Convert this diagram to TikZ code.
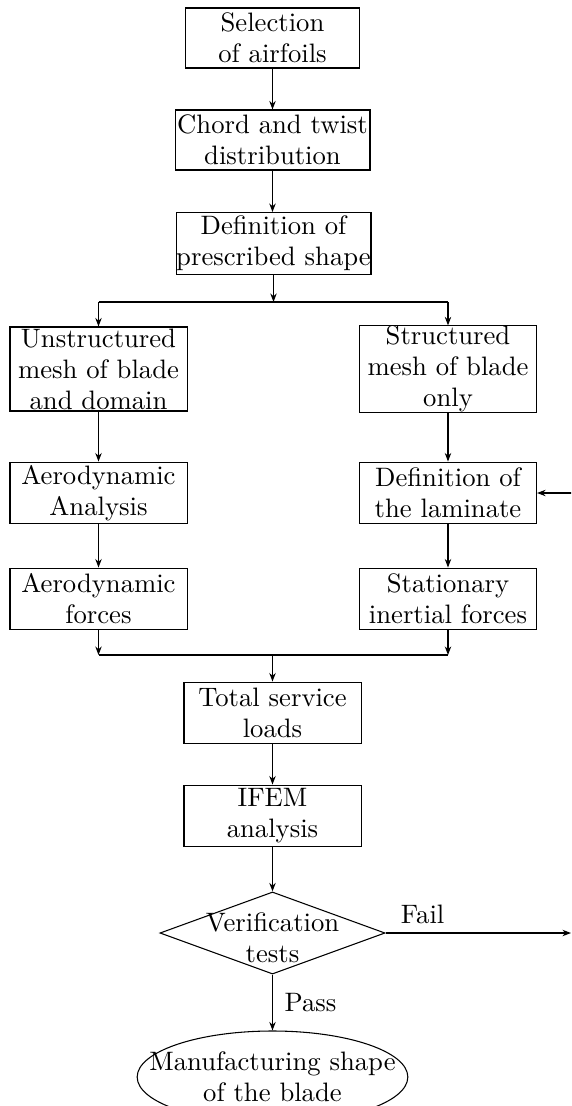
\documentclass[tikz,border=0pt]{standalone}
\usetikzlibrary{shapes.geometric,arrows.meta}
\newcommand{\twoline}[2]{\begin{tabular}{@{}c@{}}#1\\#2\end{tabular}}
\begin{document}
\begin{tikzpicture}[x=0.375pt,y=-0.375pt,
  font=\fontsize{10}{11.6}\selectfont,
  box/.style={draw,rectangle,align=center,inner sep=0pt},
  arr/.style={-{Stealth[length=3.2pt,width=2.4pt]},line width=0.45pt},
  ln/.style={line width=0.45pt}]
\useasboundingbox (0,0) rectangle (571,1106);
\begin{scope}
\clip (0,0) rectangle (571,1106);
\node[box,minimum width=65.3pt,minimum height=22.5pt] (b1) at (272.5,38) {Selection\\of airfoils};
\node[box,minimum width=73.1pt,minimum height=22.5pt] (b2) at (272.5,140) {Chord and twist\\distribution};
\node[box,minimum width=73.1pt,minimum height=23.2pt] (b3) at (273.5,243.5) {Definition of\\prescribed shape};
\node[box,minimum width=66.4pt,minimum height=31.5pt] (l1) at (98.5,369) {Unstructured\\mesh of blade\\and domain};
\node[box,minimum width=66.4pt,minimum height=31.5pt] (r1) at (448,369) {Structured\\mesh of blade\\only};
\node[box,minimum width=66.4pt,minimum height=23.2pt] (l2) at (98.5,493) {Aerodynamic\\Analysis};
\node[box,minimum width=66.4pt,minimum height=23.2pt] (r2) at (448,493) {Definition of\\the laminate};
\node[box,minimum width=66.4pt,minimum height=23.2pt] (l3) at (98.5,599) {Aerodynamic\\forces};
\node[box,minimum width=66.4pt,minimum height=23.2pt] (r3) at (448,599) {Stationary\\inertial forces};
\node[box,minimum width=66.4pt,minimum height=23.2pt] (t) at (272.5,713) {Total service\\loads};
\node[box,minimum width=66.4pt,minimum height=23.2pt] (f) at (272.5,816) {IFEM\\analysis};
\node[draw,diamond,aspect=2.8,inner sep=-8pt,minimum width=84.4pt,minimum height=30.8pt] (v) at (272.5,933) {\raisebox{-3pt}[\height][\depth]{\twoline{Verification}{tests}}};
\node[draw,ellipse,inner sep=-14pt,minimum width=101.5pt,minimum height=34.5pt] (m) at (272.5,1077) {\raisebox{-1pt}[\height][\depth]{\twoline{Manufacturing shape}{of the blade}}};

\coordinate (s1) at (273.5,302);
\coordinate (sl) at (98.5,302);
\coordinate (sr) at (448,302);
\coordinate (j1) at (272.5,655);
\coordinate (jl) at (98.5,655);
\coordinate (jr) at (448,655);
\coordinate (edgeR) at (575,0);
\coordinate (edgeF) at (571,0);
\coordinate (lam) at (r2 -| edgeR);
\coordinate (fail) at (v -| edgeF);

\draw[arr] (b1) -- (b2);
\draw[arr] (b2) -- (b2 |- b3.north);
\draw[arr] (b3) -- (s1);
\draw[ln] (sl) -- (sr);
\draw[arr] (sl) -- (l1);
\draw[arr] (sr) -- (r1);
\draw[arr] (l1) -- (l2);
\draw[arr] (l2) -- (l3);
\draw[arr] (r1) -- (r2);
\draw[arr] (r2) -- (r3);
\draw[arr] (lam) -- (r2);
\draw[arr] (l3) -- (jl);
\draw[arr] (r3) -- (jr);
\draw[ln] (jl) -- (jr);
\draw[arr] (j1) -- (t);
\draw[arr] (t) -- (f);
\draw[arr] (f) -- (v);
\draw[arr] (v) -- node[right,xshift=1pt] {Pass} (m);
\draw[arr] (v.east) -- node[above,pos=0.2] {Fail} (fail);
\end{scope}
\end{tikzpicture}
\end{document}
